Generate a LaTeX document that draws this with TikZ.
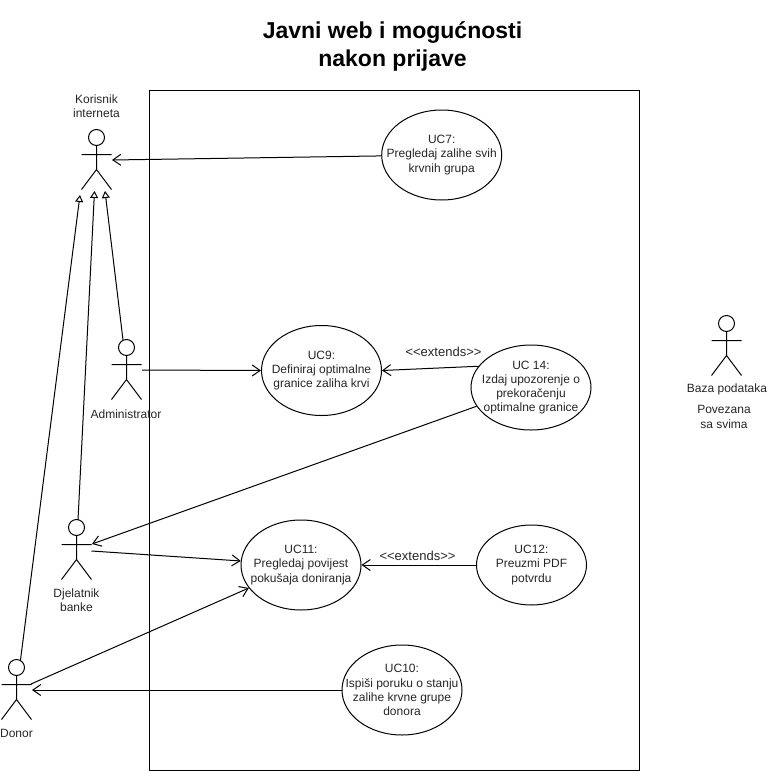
\documentclass[tikz,border=0pt]{standalone}
\usepackage{fontspec}
\setmainfont{Liberation Sans}
\usetikzlibrary{arrows.meta,shapes.geometric}
\tikzset{
 x=1pt,y=-1pt,
 every node/.style={font=\fontsize{12}{14.2}\selectfont,text=black!85,align=center,inner sep=0pt,line width=1pt},
 usecase/.style={draw=black,ellipse,inner sep=0pt},
 actorbox/.style={minimum width=30pt,minimum height=60pt,rectangle},
 assoc/.style={draw=black,line width=1pt,-{Straight Barb[length=8pt,width=11pt,line width=1pt]}},
 inherit/.style={draw=black,line width=1pt,-{Triangle[open,length=7pt,width=8pt,line width=1pt]}}
}
\newcommand{\actorfig}[2]{%
 \node[actorbox] (#1) at (#2) {};
 \draw[line width=1pt] (#1.north)++(0,8) circle (8pt);
 \draw[line width=1pt] (#1.north)++(0,16) -- ++(0,24) ++(-15,-15) -- ++(30,0) ++(-15,15) -- ++(-15,20) ++(15,-20) -- ++(15,20);
}
\newcommand{\ucnode}[5]{\node[usecase,minimum width=#3pt,minimum height=#4pt] (#1) at (#2) {}; \node (#1-text) at (#1.center) {#5};}
\begin{document}
\begin{tikzpicture}
\useasboundingbox (0,0) rectangle (767,771);
\node[font=\bfseries\fontsize{23}{28}\selectfont,text=black] (title) at (392.5,46.5) {Javni web i mogućnosti\\nakon prijave};
\node[draw=black,rectangle,minimum width=489.5pt,minimum height=679.5pt,line width=1pt] (sys) at (394.5,430.5) {};
\actorfig{kor}{96.5,160}
\actorfig{adm}{126.5,370}
\actorfig{dje}{76.5,550}
\actorfig{don}{16.5,690}
\actorfig{baz}{726.5,346}
\node (korl) at (96.5,106) {Korisnik\\interneta};
\node (adml) at (126,414) {Administrator};
\node (djel) at (76.5,600) {Djelatnik\\banke};
\node (donl) at (16.5,733) {Donor};
\node (bazl) at (727,389) {Baza podataka};
\node (pov) at (724,417) {Povezana\\sa svima};
\ucnode{uc7}{441.7,155}{120}{90}{UC7:\\Pregledaj zalihe svih\\krvnih grupa}
\ucnode{uc9}{321.5,370.5}{120}{90}{UC9:\\Definiraj optimalne\\granice zaliha krvi}
\ucnode{uc14}{531,387.5}{120}{85}{UC 14:\\Izdaj upozorenje o\\prekoračenju\\optimalne granice}
\ucnode{uc11}{301,565}{120}{90}{UC11:\\Pregledaj povijest\\pokušaja doniranja}
\ucnode{uc12}{531.5,565}{110}{80}{UC12:\\Preuzmi PDF\\potvrdu}
\ucnode{uc10}{402,690}{120}{90}{UC10:\\Ispiši poruku o stanju\\zalihe krvne grupe\\donora}
\node[font=\fontsize{13}{15}\selectfont] (ext1) at (443.5,352) {<{}<extends>{}>};
\node[font=\fontsize{13}{15}\selectfont] (ext2) at (417.5,556) {<{}<extends>{}>};
\coordinate (k1) at (80,195);
\coordinate (k2) at (94.5,191);
\coordinate (k3) at (105,191);
\coordinate (d1) at (20.5,660);
\coordinate (d2) at (78,520);
\coordinate (d3) at (123,340);
\coordinate (dje2) at (91.5,551);
\coordinate (dje3) at (92,544);
\coordinate (don2) at (31,684);
\draw[assoc] (uc7) -- (kor.east);
\draw[assoc] (adm.east) -- (uc9.west);
\draw[assoc] (uc14.158) -- (uc9.east);
\draw[assoc] (uc14.199) -- (dje3);
\draw[assoc] (dje2) -- (uc11);
\draw[assoc] (uc12) -- (uc11);
\draw[assoc] (don2) -- (uc11);
\draw[assoc] (uc10) -- (don.east);
\draw[inherit] (d1) -- (k1);
\draw[inherit] (d2) -- (k2);
\draw[inherit] (d3) -- (k3);
\end{tikzpicture}
\end{document}
